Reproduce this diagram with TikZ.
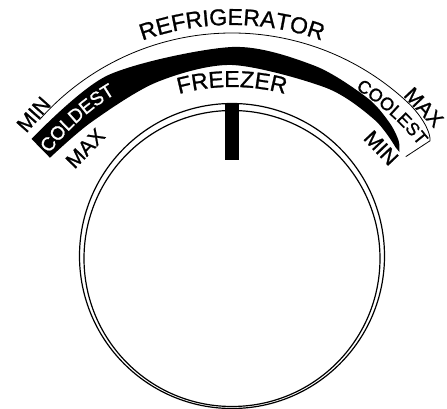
\documentclass[tikz,border=0pt]{standalone}
\usepackage{fontspec}
\setmainfont{Liberation Sans}[FakeBold=1]
\usetikzlibrary{decorations.text}

\begin{document}
\begin{tikzpicture}[x=1pt,y=1pt,
dialline/.style={line width=1.2pt},
thinline/.style={line width=0.8pt},
endlabel/.style={font=\fontsize{21}{24}\selectfont, inner sep=0pt}]
\useasboundingbox (-232,-119) rectangle (215,290);
% the scale arcs are centred at the origin
\coordinate (C) at (0,0);
\fill plot[smooth] coordinates {(143:251) (120:248) (90:243) (70:239) (55:235) (47:230) (42:224) (39.5:217)}
  -- plot[smooth] coordinates {(41:217) (50:222) (65:223) (90:225) (110:221) (130:219) (144:225)} -- cycle;
\draw[thinline] (138.5:257) arc[start angle=138.5, end angle=46, radius=257]
  .. controls (41:257) and (38:252) .. (37:248) -- (37.5:219);
% curved labels
\path[decorate, decoration={text along path, text align=center,
  text={|\fontsize{23}{26}\selectfont|REFRIGERATOR}}]
  (150:265) arc[start angle=150, end angle=30, radius=265];
\path[decorate, decoration={text along path, text align=center,
  text={|\fontsize{23}{26}\selectfont|FREEZER}}]
  (150:203) arc[start angle=150, end angle=30, radius=203];
\path[decorate, decoration={text along path, text align=center, text color=white,
  text={|\fontsize{19}{22}\selectfont|COLDEST}}]
  (152:228) arc[start angle=152, end angle=112, radius=228];
\path[decorate, decoration={text along path, text align=center,
  text={|\fontsize{18}{21}\selectfont|COOLEST}}]
  (68:236) arc[start angle=68, end angle=28, radius=236];
% end marks
\node[endlabel, rotate=48.5] (minL) at (138.5:265) {MIN};
\node[endlabel, rotate=46] (maxL) at (136:204) {MAX};
\node[endlabel, rotate=-46.4] (maxR) at (43.6:265) {MAX};
\node[endlabel, rotate=-46.4] (minR) at (43.6:206) {MIN};
% knob
\draw[dialline] (0,34) circle[radius=152.5];
\draw[dialline] (0,31.5) circle[radius=148];
\fill (-7,130) rectangle (7,187);
\end{tikzpicture}
\end{document}
